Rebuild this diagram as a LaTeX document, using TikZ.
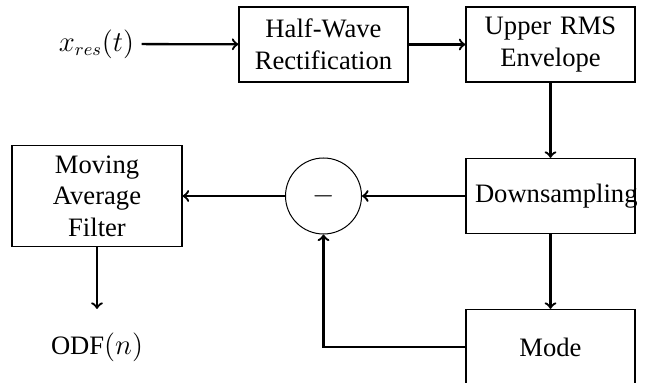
\documentclass[tikz,border=0pt]{standalone}
\usepackage{fontspec}
\setmainfont{Liberation Serif}
\begin{document}
\begin{tikzpicture}[x=0.5pt,y=-0.5pt,
  every node/.style={font=\fontsize{13.3}{15.8}\selectfont},
  blockbox/.style={draw, line width=0.6pt, text width=75.5pt, inner xsep=4.5pt, inner ysep=0pt, align=center, minimum height=37.5pt},
  plainnode/.style={inner sep=3.5pt},
  sumcirc/.style={draw, circle, line width=0.5pt, minimum size=38pt, inner sep=0pt},
  conn/.style={->, line width=1.15pt}]
\useasboundingbox (0,0) rectangle (662,383);
\node[plainnode] (xin) at (96.5,44) {$x_{res}(t)$};
\node[blockbox] (hw) at (323.5,44.5) {Half-Wave\\Rectification};
\node[blockbox] (up) at (550.5,44.5) {Upper RMS\\Envelope};
\node[blockbox] (ds) at (550.5,196) {Downsampling};
\node[sumcirc] (sum) at (323.5,196) {$-$};
\node[blockbox, text width=76pt, minimum height=50.5pt] (maf) at (97,196) {Moving\\Average\\Filter};
\node[blockbox] (mode) at (550.5,347) {Mode};
\node[blockbox, draw=none] (odf) at (97,347) {ODF$(n)$};
\draw[conn] (xin) -- (hw);
\draw[conn] (hw) -- (up);
\draw[conn] (up) -- (ds);
\draw[conn] (ds) -- (sum);
\draw[conn] (sum) -- (maf);
\draw[conn] (maf) -- (odf);
\draw[conn] (ds) -- (mode);
\draw[conn] (mode.west) -| (sum.south);
\end{tikzpicture}
\end{document}
